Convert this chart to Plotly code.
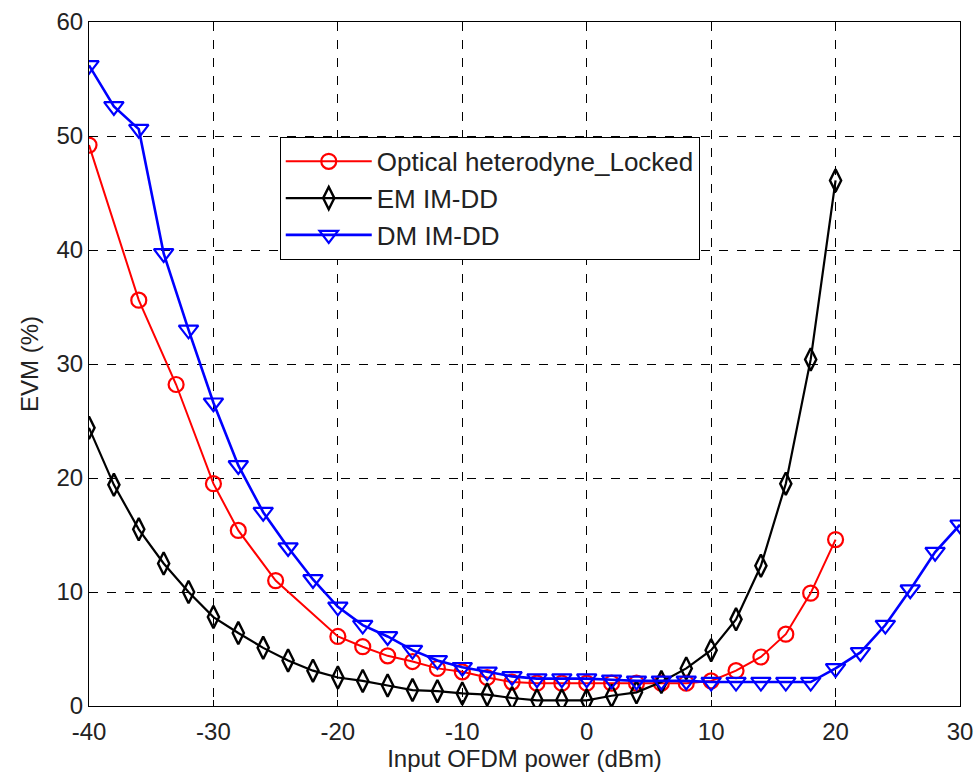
import plotly.graph_objects as go

# Optical heterodyne (locked)
het_x = [-40, -36, -33, -30, -28, -25, -20, -18, -16, -14, -12, -10, -8, -6, -4, -2,
         0, 2, 4, 6, 8, 10, 12, 14, 16, 18, 20]
het_y = [49.2, 35.6, 28.2, 19.5, 15.4, 11.0, 6.1, 5.2, 4.4, 3.9, 3.3, 3.0, 2.5, 2.1, 2.0, 2.0,
         2.0, 2.0, 2.0, 2.0, 2.0, 2.2, 3.1, 4.3, 6.3, 9.9, 14.6]

# EM IM-DD
em_x = list(range(-40, 21, 2))
em_y = [24.4, 19.4, 15.5, 12.5, 10.0, 7.8, 6.4, 5.1, 4.0, 3.1, 2.5, 2.2, 1.8, 1.4, 1.3, 1.1,
        1.0, 0.7, 0.5, 0.5, 0.5, 0.9, 1.2, 2.1, 3.3, 4.9, 7.6, 12.3, 19.5, 30.4, 46.1]

# DM IM-DD
dm_x = list(range(-40, 31, 2))
dm_y = [56.2, 52.6, 50.6, 39.7, 33.0, 26.6, 21.1, 17.0, 13.9, 11.1, 8.7, 7.1, 6.1, 4.9, 4.0, 3.4,
        3.0, 2.6, 2.4, 2.4, 2.4, 2.3, 2.2, 2.2, 2.2, 2.1, 2.1, 2.1, 2.1, 2.1, 3.3,
        4.7, 7.1, 10.2, 13.5, 15.9]

x_ticks = [-40, -30, -20, -10, 0, 10, 20, 30]
y_ticks = [0, 10, 20, 30, 40, 50, 60]

FONT = "Liberation Sans, Arial, sans-serif"

fig = go.Figure([
    go.Scatter(x=het_x, y=het_y, name="Optical heterodyne_Locked", mode="lines+markers",
               line=dict(color="#ff0000", width=2),
               marker=dict(symbol="circle-open", size=15, color="#ff0000",
                           line=dict(width=2.2, color="#ff0000"))),
    go.Scatter(x=em_x, y=em_y, name="EM IM-DD", mode="lines+markers",
               line=dict(color="#000000", width=2.2),
               marker=dict(symbol="diamond-tall-open", size=16, color="#000000",
                           line=dict(width=2.4, color="#000000"))),
    go.Scatter(x=dm_x, y=dm_y, name="DM IM-DD", mode="lines+markers",
               line=dict(color="#0000ff", width=2.6),
               marker=dict(symbol="triangle-down-open", size=17, color="#0000ff",
                           line=dict(width=2.2, color="#0000ff"))),
])

axis = dict(
    showline=True, linecolor="black", linewidth=1.2, mirror="ticks",
    ticks="inside", ticklen=6, tickcolor="black",
    showgrid=True, gridcolor="black", gridwidth=1, griddash="dash",
    zeroline=False, automargin=False,
    tickfont=dict(family=FONT, size=24, color="#222"),
    title_font=dict(family=FONT, size=24, color="#222"),
    ticklabeloverflow="allow",
)

fig.update_xaxes(axis, range=[-40, 30], tickvals=x_ticks,
                 ticktext=[str(v) for v in x_ticks], ticklabelstandoff=4,
                 title_text="Input OFDM power (dBm)", title_standoff=6)
fig.update_yaxes(axis, range=[0, 60], tickvals=y_ticks,
                 ticktext=[str(v) for v in y_ticks],
                 title_text="EVM (%)", title_standoff=10)

fig.update_layout(
    width=975, height=781,
    paper_bgcolor="white", plot_bgcolor="white",
    margin=dict(l=89, r=15, t=22, b=75),
    font=dict(family=FONT, color="#222"),
    legend=dict(
        x=0.219, y=0.832, xanchor="left", yanchor="top",
        bgcolor="white", bordercolor="black", borderwidth=1,
        font=dict(family=FONT, size=26, color="#222"),
        itemwidth=86, tracegroupgap=0,
    ),
)

# drop the browser's default body margin so the figure fills the window
fig.write_html("out.html", config={"displayModeBar": False},
               post_script="document.body.style.margin='0';")
